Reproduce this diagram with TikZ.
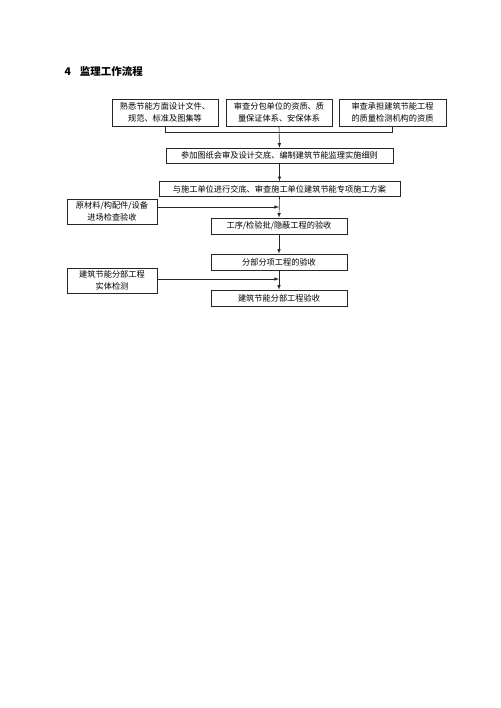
\documentclass[tikz,border=0pt]{standalone}
\usepackage{fontspec}
\newfontfamily\cjk{Noto Sans CJK SC}
\usepackage{tikz}
\usetikzlibrary{calc}
\tikzset{flowbox/.style={draw=black!85,line width=.6pt,inner sep=0pt,align=center,font=\cjk\fontsize{8.2}{11.5}\selectfont},
flowline/.style={draw=black!85,line width=.6pt},
flowarrow/.style={flowline,-latex}}

\begin{document}
\begin{tikzpicture}[x=1pt,y=-1pt]
\useasboundingbox (0,0) rectangle (500,708);
\node (title) at (61,71)[anchor=west,font=\cjk\bfseries\fontsize{10.5}{12}\selectfont]{4\hspace{9pt}监理工作流程};
\node (fam) at (165,112.5)[flowbox,minimum width=106,minimum height=27]{熟悉节能方面设计文件、\\规范、标准及图集等};
\node (sub) at (279,112.5)[flowbox,minimum width=106,minimum height=27]{审查分包单位的资质、质\\量保证体系、安保体系};
\node (lab) at (392.5,112.5)[flowbox,minimum width=107,minimum height=27]{审查承担建筑节能工程\\的质量检测机构的资质};
\node (rule) at (279.5,155.5)[flowbox,minimum width=227,minimum height=15]{参加图纸会审及设计交底、编制建筑节能监理实施细则};
\node (plan) at (279.5,189)[flowbox,minimum width=241,minimum height=15]{与施工单位进行交底、审查施工单位建筑节能专项施工方案};
\node (mat) at (112,211.5)[flowbox,minimum width=90,minimum height=25]{原材料/构配件/设备\\进场检查验收};
\node (proc) at (279,226)[flowbox,minimum width=136,minimum height=16]{工序/检验批/隐蔽工程的验收};
\node (item) at (279,262)[flowbox,minimum width=136,minimum height=16]{分部分项工程的验收};
\node (test) at (112,280.5)[flowbox,minimum width=90,minimum height=25]{建筑节能分部工程\\实体检测};
\node (final) at (279,298)[flowbox,minimum width=136,minimum height=16]{建筑节能分部工程验收};
\coordinate (top) at (279,132);
\coordinate (ja) at (279,207);
\coordinate (jb) at (279,279);
\draw[flowline] (fam.south) -- (fam.south|-top) -- (lab.south|-top) -- (lab.south);
\draw[flowarrow] (sub.south) -- (rule.north);
\draw[flowarrow] (rule.south) -- (plan.north);
\draw[flowarrow] (plan.south) -- (proc.north);
\draw[flowarrow] (mat.east|-ja) -- (ja);
\draw[flowarrow] (proc.south) -- (item.north);
\draw[flowarrow] (item.south) -- (final.north);
\draw[flowarrow] (test.east|-jb) -- (jb);
\end{tikzpicture}
\end{document}
